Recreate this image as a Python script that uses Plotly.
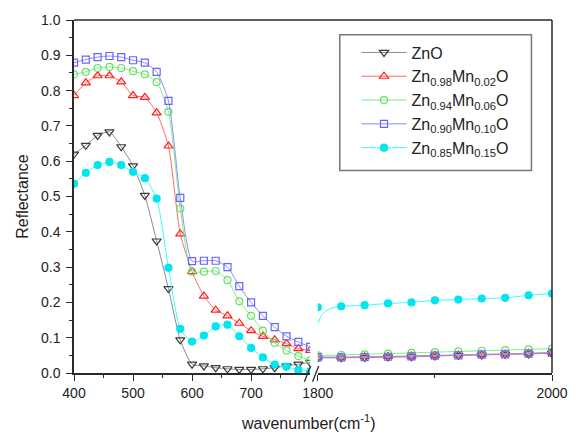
import plotly.graph_objects as go

# ---- data ----
wl_left = [400, 420, 440, 460, 480, 500, 520, 540, 560, 580, 600,
           620, 640, 660, 680, 700, 720, 740, 760, 780, 800]
wl_right = [1800, 1820, 1840, 1860, 1880, 1900, 1920, 1940, 1960, 1980, 2000]

zno_left = [0.62, 0.645, 0.673, 0.683, 0.641, 0.587, 0.503, 0.374, 0.239, 0.094, 0.025,
            0.02, 0.015, 0.012, 0.01, 0.01, 0.012, 0.015, 0.02, 0.025, 0.03]
mn02_left = [0.786, 0.822, 0.842, 0.842, 0.825, 0.786, 0.781, 0.737, 0.643, 0.394, 0.287,
             0.218, 0.178, 0.162, 0.141, 0.12, 0.104, 0.094, 0.083, 0.069, 0.064]
mn06_left = [0.846, 0.853, 0.864, 0.867, 0.864, 0.855, 0.846, 0.824, 0.74, 0.466, 0.287,
             0.287, 0.289, 0.263, 0.203, 0.162, 0.12, 0.085, 0.064, 0.048, 0.036]
mn10_left = [0.879, 0.888, 0.895, 0.898, 0.895, 0.886, 0.879, 0.853, 0.771, 0.496, 0.317,
             0.318, 0.318, 0.3, 0.246, 0.2, 0.162, 0.13, 0.104, 0.088, 0.074]
mn15_left = [0.536, 0.567, 0.589, 0.598, 0.589, 0.57, 0.552, 0.494, 0.298, 0.125, 0.089,
             0.106, 0.132, 0.137, 0.104, 0.071, 0.044, 0.024, 0.018, 0.008, 0.004]

zno_right = [0.043, 0.043, 0.044, 0.045, 0.046, 0.048, 0.05, 0.051, 0.053, 0.054, 0.056]
mn02_right = [0.045, 0.045, 0.046, 0.047, 0.048, 0.05, 0.051, 0.053, 0.054, 0.056, 0.058]
mn06_right = [0.05, 0.051, 0.053, 0.055, 0.057, 0.059, 0.061, 0.063, 0.065, 0.067, 0.069]
mn10_right = [0.044, 0.044, 0.045, 0.046, 0.047, 0.049, 0.05, 0.052, 0.053, 0.055, 0.057]
mn15_right = [0.186, 0.189, 0.192, 0.197, 0.2, 0.206, 0.208, 0.211, 0.213, 0.22, 0.225]
# dense line for Zn0.85Mn0.15O just after the break
mn15_line_x = [1800, 1803, 1807, 1812, 1820, 1840, 1860, 1880, 1900, 1920, 1940, 1960, 1980, 2000]
mn15_line_y = [0.14, 0.162, 0.176, 0.184, 0.189, 0.192, 0.197, 0.2, 0.206, 0.208, 0.211, 0.213, 0.22, 0.225]

names = ["ZnO",
         "Zn<sub>0.98</sub>Mn<sub>0.02</sub>O",
         "Zn<sub>0.94</sub>Mn<sub>0.06</sub>O",
         "Zn<sub>0.90</sub>Mn<sub>0.10</sub>O",
         "Zn<sub>0.85</sub>Mn<sub>0.15</sub>O"]
left_sets = [zno_left, mn02_left, mn06_left, mn10_left, mn15_left]
right_sets = [zno_right, mn02_right, mn06_right, mn10_right, mn15_right]
line_colors = ["#8a8a8a", "#ff6a6a", "#7cf07c", "#8c8cff", "#33ffff"]
marker_colors = ["#3a3a3a", "#ff2020", "#66e066", "#6666ff", "#00e5ee"]
symbols = ["triangle-down-open", "triangle-up-open", "circle-open", "square-open", "circle"]
sizes = [8, 8, 7, 7, 7]

fig = go.Figure()
for i in range(5):
    mk = dict(symbol=symbols[i], size=sizes[i], color=marker_colors[i],
              line=dict(color=marker_colors[i], width=1.2))
    fig.add_trace(go.Scatter(x=wl_left, y=left_sets[i], name=names[i], mode="lines+markers",
                             line=dict(color=line_colors[i], width=1, shape="spline", smoothing=0.6),
                             marker=mk, xaxis="x", yaxis="y", cliponaxis=True))
for i in range(5):
    mk = dict(symbol=symbols[i], size=sizes[i], color=marker_colors[i],
              line=dict(color=marker_colors[i], width=1.2))
    if i == 4:
        fig.add_trace(go.Scatter(x=mn15_line_x, y=mn15_line_y, mode="lines", showlegend=False,
                                 line=dict(color=line_colors[i], width=1, shape="spline", smoothing=0.6),
                                 xaxis="x2", yaxis="y"))
        fig.add_trace(go.Scatter(x=wl_right, y=right_sets[i], mode="markers", showlegend=False,
                                 marker=mk, xaxis="x2", yaxis="y"))
    else:
        fig.add_trace(go.Scatter(x=wl_right, y=right_sets[i], mode="lines+markers", showlegend=False,
                                 line=dict(color=line_colors[i], width=1, shape="spline", smoothing=0.6),
                                 marker=mk, xaxis="x2", yaxis="y"))

axcol = "#2a2a2a"
tickfont = dict(family="Liberation Sans, Arial, sans-serif", size=14, color="#222")
fig.update_layout(
    width=580, height=434,
    margin=dict(l=74, r=22, t=16, b=61),
    paper_bgcolor="white", plot_bgcolor="white",
    font=dict(family="Liberation Sans, Arial, sans-serif", color="#222"),
    xaxis=dict(domain=[0, 0.494], range=[400, 800], showgrid=False, zeroline=False,
               showline=True, linecolor=axcol, linewidth=1.5,
               tickvals=[400, 500, 600, 700], ticks="outside", ticklen=6, tickwidth=1.2,
               tickcolor=axcol, tickfont=tickfont,
               minor=dict(tickvals=[450, 550, 650, 750], ticks="outside", ticklen=3,
                          tickwidth=1.2, tickcolor=axcol)),
    xaxis2=dict(domain=[0.510, 1], range=[1800, 2000], anchor="y", showgrid=False, zeroline=False,
                showline=True, linecolor=axcol, linewidth=1.5,
                tickvals=[1800, 2000], ticks="outside", ticklen=6, tickwidth=1.2,
                tickcolor=axcol, tickfont=tickfont,
                minor=dict(tickvals=[1900], ticks="outside", ticklen=3,
                           tickwidth=1.2, tickcolor=axcol)),
    yaxis=dict(range=[0, 1.0], showgrid=False, zeroline=False, showline=True,
               linecolor=axcol, linewidth=1.5, tickvals=[i / 10 for i in range(11)],
               tickformat=".1f", ticks="outside", ticklen=6, tickwidth=1.2, tickcolor=axcol,
               tickfont=tickfont, ticklabelstandoff=3,
               minor=dict(tickvals=[0.05 + i / 10 for i in range(10)], ticks="outside",
                          ticklen=3, tickwidth=1.2, tickcolor=axcol),
               title=dict(text="Reflectance", font=dict(size=16, color="#222"), standoff=8)),
    legend=dict(x=0.591, y=0.956, xanchor="left", yanchor="top",
                bgcolor="rgba(0,0,0,0)", borderwidth=0,
                font=dict(family="Liberation Sans, Arial, sans-serif", size=16, color="#222"),
                itemwidth=45, tracegroupgap=0),
    showlegend=True,
)

# legend frame
fig.add_shape(type="rect", xref="paper", yref="paper", x0=0.556, x1=0.957, y0=0.574, y1=0.958,
              line=dict(color="#777", width=1.5), fillcolor="white", layer="below")
# frame top and right, break marks
fig.add_shape(type="line", xref="paper", yref="paper", x0=0, x1=1, y0=1, y1=1,
              line=dict(color=axcol, width=1.5))
fig.add_shape(type="line", xref="paper", yref="paper", x0=1, x1=1, y0=0, y1=1,
              line=dict(color=axcol, width=1.5))
for bx in [0.482, 0.499]:
    fig.add_shape(type="line", xref="paper", yref="paper", x0=bx, x1=bx + 0.013,
                  y0=-0.025, y1=0.02, line=dict(color=axcol, width=1.3))

fig.add_annotation(text="wavenumber(cm<sup>-1</sup>)", xref="paper", yref="paper",
                   x=0.49, y=-0.14, xanchor="center", yanchor="middle", showarrow=False,
                   font=dict(size=16, color="#222"))

fig.write_html("out.html")
